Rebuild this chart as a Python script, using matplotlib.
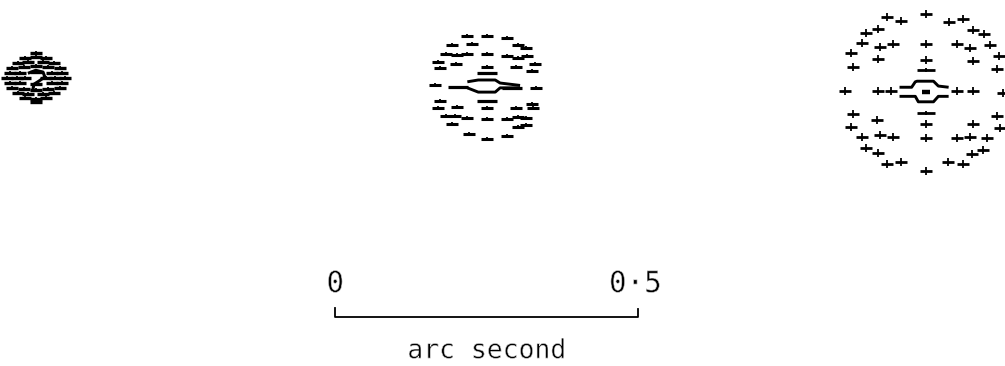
import matplotlib
matplotlib.use("Agg")
import matplotlib.pyplot as plt
import matplotlib.patheffects as pe

# Ray intercepts (milliarcsec, x right / y up) relative to each image centre.
# Off-axis field (largest spot)
far_x = [-64, -41, 0, 38, 61, -99, -79, 78, 96, -106, -76, -54, 0, 50, 73, 106,
         -124, -79, 0, 78, 120, -120, 117, -134, -79, -58, 51, 78, 127,
         -120, -81, 117, -124, 0, 78, 122, -106, -76, -54, 0, 50, 73, 101,
         -99, -79, 76, 94, -64, -41, 36, 61, 0]
far_y = [123, 116, 128, 115, 120, 97, 103, 101, 95, 80, 73, 78, 78, 78, 72, 77,
         64, 54, 52, 50, 59, 40, 37, 1, 1, 1, 1, 1, -2,
         -37, -47, -40, -59, -54, -54, -60, -75, -72, -75, -77, -77, -75, -77,
         -93, -101, -103, -97, -120, -116, -116, -120, -131]
far_long_x = [0, 0]
far_long_y = [35, -35]
far_core_top_x = [-44, -24, -18, -15, 12, 20, 37]
far_core_top_y = [7, 7, 16, 17, 17, 9, 7]
far_core_bot_x = [-44, -18, -13, 12, 20, 37]
far_core_bot_y = [-8, -8, -17, -17, -8, -8]

# Intermediate field
mid_x = [0, -33, 33, -58, -26, 50, 63, -68, -50, -33, 0, 33, 50, 66, 79,
         -81, -51, 0, 48, -78, 74, -86, 81,
         -78, -50, 0, 48, 74, -81, 76, -69, -53, -33, 0, 33, 50, 64,
         -58, 51, 63, -31, 0, 33]
mid_y = [84, 83, 81, 69, 71, 68, 63, 54, 53, 54, 54, 51, 48, 50, 38,
         41, 38, 33, 33, 31, 26, 3, -3,
         -23, -33, -35, -35, -28, -35, -36, -48, -48, -51, -53, -53, -50, -51,
         -61, -66, -64, -78, -86, -81]
mid_long_x = [0, -48, 41, 0]
mid_long_y = [23, 0, -2, -23]
mid_core_top_x = [-33, -15, 13, 21, 54]
mid_core_top_y = [8, 11, 11, 6, 2]
mid_core_bot_x = [-33, -15, 13, 21, 54]
mid_core_bot_y = [-2, -9, -9, -2, -2]

# On-axis field (smallest spot)
near_x = [0, -17, 0, 17, -30, -12, 12, 30, -40, -20, 0, 20, 40,
          -43, -26, 0, 26, 43, -48, -31, -17, 17, 31, 48,
          -43, -26, 0, 26, 43, -40, -20, 0, 20, 40,
          -30, -12, 12, 30, -17, 0, 17, 0]
near_y = [41, 33, 35, 33, 25, 26, 26, 25, 17, 18, 20, 18, 17,
          8, 8, 10, 8, 8, 0, 0, 0, 0, 0, 0,
          -8, -8, -10, -8, -8, -17, -18, -20, -18, -17,
          -25, -26, -26, -25, -33, -35, -33, -40]
near_core_x = [-13, 0, 12, 15, 5, -3, -5]
near_core_y = [8, 13, 10, 2, -5, -10, -20]

scale_arcsec = 0.5
scale_labels = ["0", "0\u00b75"]
scale_title = "arc second"

fig = plt.figure(figsize=(10.05, 3.66), dpi=100)
ax = fig.add_axes([0, 0, 1, 1])
ax.set_xlim(0, 1658)
ax.set_ylim(0, 604)
ax.axis("off")

ink = "black"


def spot(cx, cy, xs, ys, bar, tick, bar_w=2.0, tick_w=1.3):
    px = [cx + v for v in xs]
    py = [cy + v for v in ys]
    ax.plot(px, py, ls="none", marker="_", ms=bar, mew=bar_w, color=ink)
    if tick:
        ax.plot(px, py, ls="none", marker="|", ms=tick, mew=tick_w, color=ink)


def curve(cx, cy, xs, ys, lw=2.1):
    ax.plot([cx + v for v in xs], [cy + v for v in ys], color=ink, lw=lw,
            solid_capstyle="butt")


# off-axis image
fx, fy = 1528, 453
spot(fx, fy, far_x, far_y, 8, 5.5)
spot(fx, fy, far_long_x, far_long_y, 13, 3.5)
curve(fx, fy, far_core_top_x, far_core_top_y)
curve(fx, fy, far_core_bot_x, far_core_bot_y)
spot(fx, fy, [0], [0], 6, 0, bar_w=3.2)

# intermediate image
mx, my = 804, 461
spot(mx, my, mid_x, mid_y, 9, 3, bar_w=2.2)
spot(mx, my, mid_long_x, mid_long_y, 14, 0, bar_w=2.3)
curve(mx, my, mid_core_top_x, mid_core_top_y)
curve(mx, my, mid_core_bot_x, mid_core_bot_y)

# on-axis image
nx, ny = 59, 475
spot(nx, ny, near_x, near_y, 8.5, 3.5, bar_w=2.4)
curve(nx, ny, near_core_x, near_core_y, lw=2.2)

# scale bar
x0, yb = 553, 81
x1 = x0 + scale_arcsec * 1000
ax.plot([x0, x0, x1, x1], [yb + 15, yb, yb, yb + 13], color=ink, lw=1.3)
thin = [pe.Normal(), pe.Stroke(linewidth=0.45, foreground="white")]
font = dict(family="DejaVu Sans Mono", color=ink, path_effects=thin)
ax.text(x0, 122, scale_labels[0], ha="center", va="baseline", fontsize=21, **font)
ax.text(x1 - 5, 122, scale_labels[1], ha="center", va="baseline", fontsize=21, **font)
ax.text((x0 + x1) / 2, 13, scale_title, ha="center", va="baseline", fontsize=19, **font)

fig.savefig("out.png", dpi=100, facecolor="white")
